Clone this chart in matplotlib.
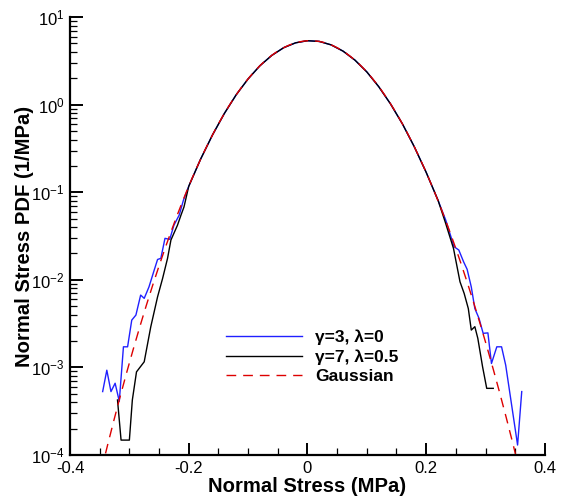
import numpy as np
import matplotlib
matplotlib.use("Agg")
import matplotlib.pyplot as plt
from matplotlib.ticker import LogLocator, MultipleLocator, FuncFormatter, NullFormatter

plt.rcParams['font.family'] = ['Liberation Sans', 'DejaVu Sans']
plt.rcParams['mathtext.default'] = 'regular'
plt.rcParams['axes.unicode_minus'] = False

# central part, shared shape of both simulated PDFs
x_center = [-0.20, -0.18, -0.16, -0.14, -0.12, -0.10, -0.08, -0.06, -0.04, -0.02,
            0.0, 0.02, 0.04, 0.06, 0.08, 0.10, 0.12, 0.14, 0.16, 0.18, 0.20]
pdf_center = [0.117, 0.239, 0.451, 0.794, 1.30, 1.97, 2.79, 3.66, 4.48, 5.09,
              5.38, 5.28, 4.82, 4.09, 3.23, 2.37, 1.61, 1.02, 0.604, 0.331, 0.169]

# gamma=3, lambda=0 (blue)
x_blue_left = [-0.345, -0.338, -0.331, -0.324, -0.317, -0.310, -0.303, -0.296, -0.289,
               -0.281, -0.275, -0.267, -0.259, -0.2525, -0.247, -0.240, -0.232, -0.225,
               -0.216, -0.209]
pdf_blue_left = [5.3e-4, 9.3e-4, 5.3e-4, 6.6e-4, 4.1e-4, 1.72e-3, 1.72e-3, 3.47e-3, 3.96e-3,
                 6.7e-3, 6.15e-3, 8.3e-3, 1.24e-2, 1.71e-2, 1.76e-2, 2.98e-2, 2.9e-2, 4.2e-2,
                 5.5e-2, 8.1e-2]
x_blue_right = [0.220, 0.233, 0.247, 0.255, 0.263, 0.269, 0.276, 0.282, 0.289, 0.296,
                0.304, 0.310, 0.319, 0.327, 0.334, 0.354, 0.361]
pdf_blue_right = [8.1e-2, 4.8e-2, 2.39e-2, 2.19e-2, 1.61e-2, 1.32e-2, 8.3e-3, 4.7e-3, 3.64e-3,
                  2.45e-3, 2.48e-3, 1.11e-3, 1.72e-3, 1.72e-3, 1.06e-3, 1.3e-4, 5.3e-4]

# gamma=7, lambda=0.5 (black)
x_black_left = [-0.320, -0.314, -0.300, -0.295, -0.288, -0.275, -0.264, -0.2525, -0.244,
                -0.2357, -0.230, -0.219, -0.213, -0.208]
pdf_black_left = [4.25e-4, 1.48e-4, 1.48e-4, 4.25e-4, 8.9e-4, 1.16e-3, 2.9e-3, 6.4e-3, 1.04e-2,
                  1.76e-2, 2.85e-2, 4.2e-2, 5.5e-2, 6.8e-2]
x_black_right = [0.220, 0.232, 0.246, 0.257, 0.264, 0.271, 0.276, 0.282, 0.287, 0.295,
                 0.302, 0.313]
pdf_black_right = [8.1e-2, 4.6e-2, 2.29e-2, 9.5e-3, 7.0e-3, 4.7e-3, 2.67e-3, 2.92e-3, 2.15e-3,
                   1.02e-3, 5.77e-4, 5.77e-4]

# fitted gaussian
gauss_mean = 0.005
gauss_sigma = 0.0741

x_blue = x_blue_left + x_center + x_blue_right
y_blue = pdf_blue_left + pdf_center + pdf_blue_right
x_black = x_black_left + x_center + x_black_right
y_black = pdf_black_left + pdf_center + pdf_black_right

xg = np.linspace(-0.36, 0.36, 400)
yg = np.exp(-(xg - gauss_mean) ** 2 / (2 * gauss_sigma ** 2)) / (gauss_sigma * np.sqrt(2 * np.pi))

fig = plt.figure(figsize=(5.66, 5.01), dpi=100)
ax = fig.add_axes([0.1237, 0.0918, 0.839, 0.874])

ax.plot(x_blue, y_blue, color='#2020ff', lw=1.0, label='γ=3, λ=0')
ax.plot(x_black, y_black, color='black', lw=1.0, label='γ=7, λ=0.5')
ax.plot(xg, yg, color='#dd0000', lw=1.0, dashes=(7, 5), label='Gaussian')

ax.set_yscale('log')
ax.set_xlim(-0.4, 0.4)
ax.set_ylim(1e-4, 1e1)

ax.spines['top'].set_visible(False)
ax.spines['right'].set_visible(False)
ax.spines['left'].set_linewidth(1.6)
ax.spines['bottom'].set_linewidth(1.6)

ax.xaxis.set_major_locator(MultipleLocator(0.2))
ax.xaxis.set_minor_locator(MultipleLocator(0.05))
ax.xaxis.set_major_formatter(FuncFormatter(lambda v, p: '%g' % round(v, 3)))
ax.yaxis.set_major_locator(LogLocator(base=10, numticks=10))
ax.yaxis.set_minor_locator(LogLocator(base=10, subs=np.arange(2, 10), numticks=20))
ax.yaxis.set_minor_formatter(NullFormatter())

ax.tick_params(which='major', direction='in', length=9, width=1.4, labelsize=12, pad=4)
ax.tick_params(which='minor', direction='in', length=5, width=0.9)
ax.tick_params(top=False, right=False, which='both')

ax.set_xlabel('Normal Stress (MPa)', fontsize=14.6, fontweight='bold', labelpad=1)
ax.set_ylabel('Normal Stress PDF (1/MPa)', fontsize=14.6, fontweight='bold', labelpad=-2)

leg = ax.legend(loc='upper left', bbox_to_anchor=(0.295, 0.323), frameon=False,
                handlelength=4.4, fontsize=12.5, labelspacing=0.25, handletextpad=0.75)
for t in leg.get_texts():
    t.set_fontweight('bold')

fig.savefig('out.png', dpi=100)
